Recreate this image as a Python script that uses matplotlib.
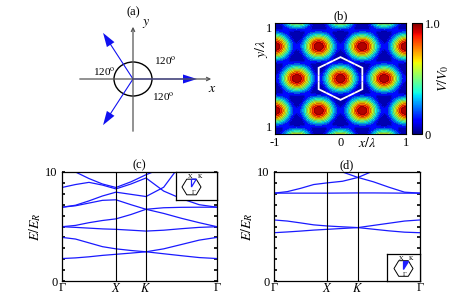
import numpy as np
import matplotlib
matplotlib.use("Agg")
import matplotlib.pyplot as plt
from matplotlib.patches import Ellipse, Polygon
from matplotlib.cm import ScalarMappable
from matplotlib.colors import Normalize

plt.rcParams['font.family'] = 'serif'
plt.rcParams['font.serif'] = ['Liberation Serif', 'DejaVu Serif']
plt.rcParams['mathtext.fontset'] = 'stix'

# ---- band data, E/E_R at sample points along G-X-K-G
kc = [0, 0.087, 0.174, 0.261, 0.348, 0.445, 0.542, 0.656, 0.771, 0.885, 1.0]
c_x, c_k = 0.348, 0.542
bands_c = [
    [2.06, 2.12, 2.22, 2.35, 2.45, 2.56, 2.68, 2.50, 2.32, 2.15, 2.06],
    [4.00, 3.85, 3.50, 3.15, 2.95, 2.80, 2.68, 2.95, 3.35, 3.75, 4.00],
    [4.98, 4.92, 4.85, 4.78, 4.74, 4.66, 4.58, 4.66, 4.80, 4.92, 4.98],
    [4.98, 5.10, 5.35, 5.55, 5.70, 6.10, 6.58, 6.20, 5.75, 5.35, 4.98],
    [6.77, 6.90, 7.15, 7.40, 7.45, 7.00, 6.58, 6.72, 6.76, 6.77, 6.77],
    [6.77, 6.95, 7.35, 7.80, 8.15, 7.95, 7.75, 8.60, 10.8, 11.5, 11.5],
    [8.58, 8.85, 9.05, 8.80, 8.45, 8.90, 9.45, 8.25, 7.55, 7.00, 6.77],
    [10.8, 10.0, 9.40, 8.90, 8.58, 9.10, 9.75, 10.4, 10.9, 11.0, 11.0],
]

kd = [0, 0.091, 0.182, 0.272, 0.363, 0.469, 0.575, 0.681, 0.788, 0.894, 1.0]
d_x, d_k = 0.363, 0.575
bands_d = [
    [4.43, 4.50, 4.58, 4.67, 4.74, 4.82, 4.90, 4.75, 4.60, 4.48, 4.43],
    [5.60, 5.50, 5.33, 5.15, 5.05, 4.97, 4.90, 5.10, 5.30, 5.50, 5.60],
    [8.06, 8.06, 8.06, 8.06, 8.06, 8.07, 8.08, 8.08, 8.07, 8.06, 8.06],
    [8.06, 8.20, 8.50, 8.85, 9.00, 9.15, 9.50, 10.1, 10.6, 11.0, 11.0],
    [np.nan, np.nan, np.nan, np.nan, 10.6, 10.0, 9.50, 9.10, 8.60, 8.15, 8.06],
]

k_labels = ['Γ', '$X$', '$K$', 'Γ']

# ---- potential map for (b): three beams at 120 deg, lattice constant 2*lambda/3
beam_angles = np.deg2rad([0, 120, 240])
xs = np.linspace(-1, 1, 400)
ys = np.linspace(-1, 1, 400)
X, Y = np.meshgrid(xs, ys)
field = sum(np.exp(1j * 2 * np.pi * (np.cos(a) * X + np.sin(a) * Y)) for a in beam_angles)
V = np.abs(field) ** 2 / 9.0

fig = plt.figure(figsize=(4.64, 2.94), dpi=100)

# ---- (a) schematic, drawn in pixel units
ax_a = fig.add_axes([0, 0, 1, 1], zorder=0)
ax_a.set_xlim(0, 464)
ax_a.set_ylim(294, 0)
ax_a.axis('off')
cx, cy = 133, 79
ax_a.annotate('', xy=(214, cy), xytext=(77, cy),
              arrowprops=dict(arrowstyle='->', color='#555555', lw=0.9, mutation_scale=6))
ax_a.annotate('', xy=(cx, 24), xytext=(cx, 134),
              arrowprops=dict(arrowstyle='->', color='#555555', lw=0.9, mutation_scale=6))
ax_a.add_patch(Ellipse((cx, cy), 38, 34, fill=False, ec='black', lw=1.0))
for ang, length in [(0, 64), (123, 55), (237, 55)]:
    dx = length * np.cos(np.deg2rad(ang))
    dy = -length * np.sin(np.deg2rad(ang))
    ax_a.arrow(cx, cy, dx, dy, width=1.1, head_width=9, head_length=14,
               length_includes_head=True, color='#1010f0', lw=0)
ax_a.text(cx, 12, '(a)', ha='center', va='center', fontsize=9)
ax_a.text(146, 24, '$y$', ha='center', va='center', fontsize=10)
ax_a.text(212, 88, '$x$', ha='center', va='center', fontsize=10)
ax_a.text(165, 61, '120$^{\\rm o}$', ha='center', va='center', fontsize=8)
ax_a.text(104, 72, '120$^{\\rm o}$', ha='center', va='center', fontsize=8)
ax_a.text(163, 97, '120$^{\\rm o}$', ha='center', va='center', fontsize=8)

# ---- (b) potential
ax_b = fig.add_axes([275 / 464, 1 - 134 / 294, 131 / 464, 111 / 294])
levels = np.linspace(0, 1, 12)
ax_b.contourf(X, Y, V, levels=levels, cmap='jet')
ax_b.contour(X, Y, V, levels=levels[1:-1], colors='k', linewidths=0.25, alpha=0.5)
hex_r = 2 / 3 / np.sqrt(3)
hx = [hex_r * np.cos(np.deg2rad(90 + 60 * i)) for i in range(6)]
hy = [hex_r * np.sin(np.deg2rad(90 + 60 * i)) for i in range(6)]
ax_b.add_patch(Polygon(np.column_stack([hx, hy]), closed=True, fill=False, ec='white', lw=1.3))
ax_b.set_xlim(-1, 1)
ax_b.set_ylim(-1, 1)
ax_b.set_xticks([-1, 0, 1])
ax_b.set_xticklabels(['-1', '0', '1'])
ax_b.set_yticks([-1, 1])
ax_b.set_yticklabels(['1', '1'])
ax_b.tick_params(length=0, labelsize=9, pad=2)
ylabs = ax_b.get_yticklabels()
ylabs[0].set_va('bottom')
ylabs[1].set_va('top')
ax_b.text(0.7, -0.08, '$x/\\lambda$', transform=ax_b.transAxes, ha='center', va='center', fontsize=10)
ax_b.text(-0.1, 0.77, '$y/\\lambda$', transform=ax_b.transAxes, ha='center', va='center',
          rotation=90, fontsize=10)
ax_b.set_title('(b)', fontsize=9, pad=3)

ax_cb = fig.add_axes([412 / 464, 1 - 134 / 294, 10 / 464, 111 / 294])
cb = fig.colorbar(ScalarMappable(norm=Normalize(0, 1), cmap='jet'), cax=ax_cb)
cb.set_ticks([0, 1])
cb.set_ticklabels(['0', '1.0'])
cb.ax.tick_params(length=0, labelsize=9, pad=2)
cb.outline.set_linewidth(0.8)
cb.set_label('$V/V_0$', fontsize=10, labelpad=-4)


def band_panel(rect, ks, bands, kx, kk, title):
    ax = fig.add_axes(rect)
    for b in bands:
        ax.plot(ks, b, color='#1a1aff', lw=0.9)
    ax.axvline(kx, color='k', lw=0.8)
    ax.axvline(kk, color='k', lw=0.8)
    ax.set_xlim(0, 1)
    ax.set_ylim(0, 10)
    ax.set_xticks([0, kx, kk, 1])
    ax.set_xticklabels(k_labels)
    ax.set_yticks([0, 10])
    ax.set_yticks(range(1, 10), minor=True)
    ax.tick_params(axis='y', which='both', direction='in', right=True, length=2, width=1.2, labelsize=9, pad=3)
    ax.tick_params(axis='x', length=0, labelsize=9, pad=1)
    ax.set_ylabel('$E/E_R$', fontsize=10, labelpad=2)
    ax.set_title(title, fontsize=9, pad=3)
    for s in ax.spines.values():
        s.set_linewidth(0.9)
    return ax


ax_c = band_panel([62 / 464, 1 - 281 / 294, 155 / 464, 109 / 294], kc, bands_c, c_x, c_k, '(c)')
ax_d = band_panel([274 / 464, 1 - 281 / 294, 146 / 464, 109 / 294], kd, bands_d, d_x, d_k, '(d)')


def bz_inset(rect, w, h, cen, lab, filled):
    ins = fig.add_axes(rect)
    ins.set_xlim(0, w)
    ins.set_ylim(0, h)
    ins.set_xticks([])
    ins.set_yticks([])
    for s in ins.spines.values():
        s.set_linewidth(0.9)
    r = 9.5
    px = [cen[0] + r * np.cos(np.deg2rad(60 * i)) for i in range(6)]
    py = [cen[1] + r * np.sin(np.deg2rad(60 * i)) * 0.95 for i in range(6)]
    ins.add_patch(Polygon(np.column_stack([px, py]), closed=True, fill=False, ec='k', lw=0.7))
    g = cen
    xpt = (cen[0], py[1])
    kpt = (px[1], py[1])
    tri = np.array([g, xpt, kpt])
    ins.add_patch(Polygon(tri, closed=True, fill=filled, fc='#2020ff', ec='#2020ff', lw=0.9))
    ins.text(lab[0][0], lab[0][1], '$\\mathrm{X}$', fontsize=4.5, ha='center', va='center')
    ins.text(lab[1][0], lab[1][1], '$\\mathrm{K}$', fontsize=4.5, ha='center', va='center')
    ins.text(lab[2][0], lab[2][1], 'Γ', fontsize=4.5, ha='center', va='center')


bz_inset([176 / 464, 1 - 200 / 294, 41 / 464, 28 / 294], 41, 28, (15.5, 13.0),
         [(14, 24), (24, 24), (17.5, 7.5)], False)
bz_inset([387 / 464, 1 - 281 / 294, 33 / 464, 27 / 294], 33, 27, (16.5, 12.5),
         [(14.7, 22.7), (24.7, 23), (18, 7)], True)

fig.savefig('out.png', dpi=100)
